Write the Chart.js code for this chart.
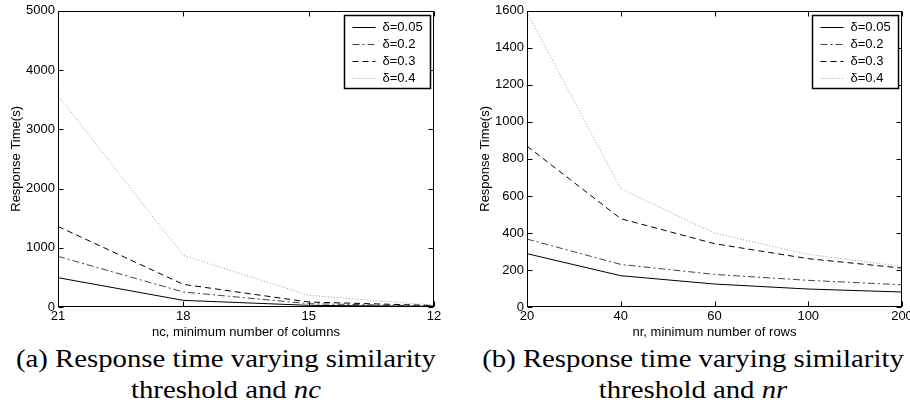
<!DOCTYPE html>
<html>
<head>
<meta charset="utf-8">
<script src="https://cdn.jsdelivr.net/npm/chart.js@4.4.0/dist/chart.umd.min.js"></script>
<style>
  html, body { margin: 0; padding: 0; background: #fff; width: 910px; height: 408px; overflow: hidden; position: relative; }
  .box { position: absolute; top: 0; height: 340px; }
  .cap { position: absolute; width: 420px; font-family: "Liberation Serif", "Times New Roman", serif; font-size: 25px; line-height: 31px;
         text-align: center; color: #000; white-space: nowrap; transform: scaleX(1.15); transform-origin: center; }
  .cap i { font-style: italic; }
</style>
</head>
<body>
<div class="box" style="left:0;width:455px"><canvas id="chartNc"></canvas></div>
<div class="box" style="left:455px;width:470px"><canvas id="chartNr"></canvas></div>
<div class="cap" style="left:16px;top:343px">(a) Response time varying similarity<br>threshold and <i>nc</i></div>
<div class="cap" style="left:483px;top:343px">(b) Response time varying similarity<br>threshold and <i>nr</i></div>

<script>
// series names (similarity threshold)
const seriesNames = ['δ=0.05', 'δ=0.2', 'δ=0.3', 'δ=0.4'];

// (a) nc, minimum number of columns
const ncLabels = ['21', '18', '15', '12'];
const ncD005 = [495, 112, 28, 10];
const ncD02 = [855, 253, 56, 18];
const ncD03 = [1360, 382, 84, 25];
const ncD04 = [3570, 870, 197, 30];

// (b) nr, minimum number of rows
const nrLabels = ['20', '40', '60', '100', '200'];
const nrD005 = [288, 169, 124, 97, 81];
const nrD02 = [367, 230, 176, 144, 120];
const nrD03 = [869, 477, 342, 261, 210];
const nrD04 = [1592, 638, 399, 284, 219];

const lineStyles = [
    { color: '#000', dash: [] },
    { color: '#444', dash: [7, 3, 2, 3] },
    { color: '#000', dash: [6, 4] },
    { color: '#999', dash: [1, 2] }
];

const fam = '"Liberation Sans", Arial, Helvetica, sans-serif';

// box round the plot, inward tick marks and legend inside the plot
const framePlugin = {
    id: 'frame',
    afterDraw(chart) {
        const { ctx, chartArea: a, scales } = chart;
        const L = Math.round(a.left) + 0.5, R = Math.round(a.right) - 0.5;
        const T = Math.round(a.top) + 0.5, B = Math.round(a.bottom) - 0.5;
        const tl = 5;
        ctx.save();
        ctx.strokeStyle = '#000';
        ctx.lineWidth = 1;
        ctx.setLineDash([]);
        ctx.beginPath();
        scales.x.ticks.forEach((t, i) => {
            const px = Math.round(scales.x.getPixelForTick(i)) + 0.5;
            ctx.moveTo(px, B); ctx.lineTo(px, B - tl);
            ctx.moveTo(px, T); ctx.lineTo(px, T + tl);
        });
        scales.y.ticks.forEach((t, i) => {
            const py = Math.round(scales.y.getPixelForTick(i)) + 0.5;
            ctx.moveTo(L, py); ctx.lineTo(L + tl, py);
            ctx.moveTo(R, py); ctx.lineTo(R - tl, py);
        });
        ctx.stroke();
        ctx.strokeRect(L, T, R - L, B - T);

        // legend
        const w = 86, h = 73;
        const bx = Math.round(a.right) - 4 - w + 0.5, by = Math.round(a.top) + 4 + 0.5;
        ctx.fillStyle = '#fff';
        ctx.fillRect(bx, by, w, h);
        ctx.lineWidth = 1.5;
        ctx.strokeRect(bx, by, w, h);
        ctx.font = '13px ' + fam;
        ctx.textBaseline = 'middle';
        ctx.textAlign = 'left';
        chart.data.datasets.forEach((ds, i) => {
            const y = Math.round(by + 11 + i * 17.3) + 0.5;
            ctx.strokeStyle = ds.borderColor;
            ctx.lineWidth = 1;
            ctx.setLineDash(ds.borderDash);
            ctx.beginPath();
            ctx.moveTo(bx + 8, y);
            ctx.lineTo(bx + 31, y);
            ctx.stroke();
            ctx.setLineDash([]);
            ctx.fillStyle = '#000';
            ctx.fillText(ds.label, bx + 38, y);
        });
        ctx.restore();
    }
};

function makeChart(id, labels, series, yMax, yStep, xTitle, padLeft, padRight) {
    return new Chart(document.getElementById(id), {
        type: 'line',
        data: {
            labels: labels,
            datasets: series.map((d, i) => ({
                label: seriesNames[i],
                data: d,
                borderColor: lineStyles[i].color,
                borderDash: lineStyles[i].dash,
                borderWidth: 1,
                pointRadius: 0,
                tension: 0,
                fill: false
            }))
        },
        options: {
            responsive: true,
            maintainAspectRatio: false,
            animation: false,
            layout: { padding: { left: padLeft, right: padRight, top: 10, bottom: 0 } },
            plugins: { legend: { display: false }, tooltip: { enabled: false } },
            scales: {
                x: {
                    type: 'category',
                    offset: false,
                    grid: { display: false, drawTicks: false },
                    border: { display: false },
                    ticks: { color: '#000', font: { family: fam, size: 13 }, padding: 2, maxRotation: 0, autoSkip: false },
                    title: { display: true, text: xTitle, color: '#000', font: { family: fam, size: 13 }, padding: 0 },
                    afterFit(s) { s.height = 33; }
                },
                y: {
                    min: 0,
                    max: yMax,
                    grid: { display: false, drawTicks: false },
                    border: { display: false },
                    ticks: { stepSize: yStep, color: '#000', font: { family: fam, size: 13 }, padding: 3,
                             callback: v => String(v) },
                    title: { display: true, text: 'Response Time(s)', color: '#000', font: { family: fam, size: 13 }, padding: 0 },
                    afterFit(s) { s.width = 49; }
                }
            }
        },
        plugins: [framePlugin]
    });
}

makeChart('chartNc', ncLabels, [ncD005, ncD02, ncD03, ncD04], 5000, 1000,
    'nc, minimum number of columns', 9, 21);
makeChart('chartNr', nrLabels, [nrD005, nrD02, nrD03, nrD04], 1600, 200,
    'nr, minimum number of rows', 23, 23);
</script>
</body>
</html>
